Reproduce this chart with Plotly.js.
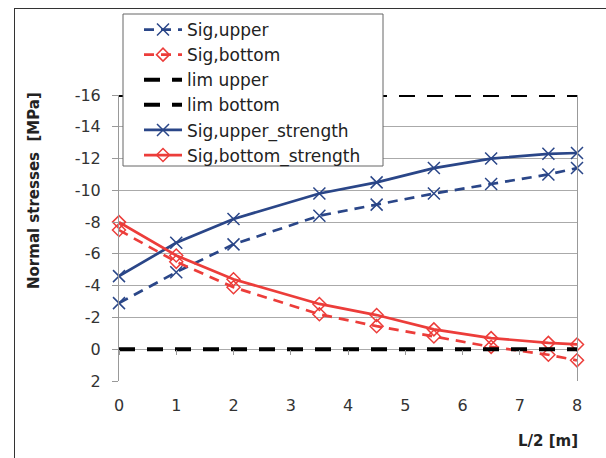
<!DOCTYPE html>
<html>
<head>
<meta charset="utf-8">
<script src="https://cdn.plot.ly/plotly-3.0.1.min.js"></script>
<style>
  html, body { margin: 0; padding: 0; background: #fff; }
  #frame { position: absolute; left: 14px; top: 8px; width: 700px; height: 600px; border: 1.5px solid #333; }
  #chart { position: absolute; left: 0; top: 0; width: 606px; height: 458px; }
</style>
</head>
<body>
<div id="frame"></div>
<div id="chart"></div>
<script>
const xPos = [0, 1, 2, 3.5, 4.5, 5.5, 6.5, 7.5, 8];
const sigUpper = [-2.9, -4.85, -6.6, -8.4, -9.1, -9.8, -10.4, -11.0, -11.4];
const sigBottom = [-7.5, -5.5, -3.9, -2.2, -1.45, -0.8, -0.15, 0.35, 0.7];
const limX = [0, 8];
const limUpper = [-16, -16];
const limBottom = [0, 0];
const sigUpperStrength = [-4.6, -6.7, -8.2, -9.8, -10.5, -11.4, -12.0, -12.3, -12.35];
const sigBottomStrength = [-8.0, -5.9, -4.4, -2.85, -2.15, -1.25, -0.7, -0.4, -0.3];
const xTicks = [0, 1, 2, 3, 4, 5, 6, 7, 8];
const yTicks = [-16, -14, -12, -10, -8, -6, -4, -2, 0, 2];

const blue = '#2a4688';
const red = '#ec3d3a';
const fam = 'DejaVu Sans, Liberation Sans, Arial, sans-serif';

const traces = [
  { x: xPos, y: sigUpper, name: 'Sig,upper', mode: 'lines+markers', cliponaxis: false,
    line: { color: blue, width: 2.7, dash: '10px,7px' },
    marker: { symbol: 'x-thin-open', size: 12, line: { color: blue, width: 1.5 } } },
  { x: xPos, y: sigBottom, name: 'Sig,bottom', mode: 'lines+markers', cliponaxis: false,
    line: { color: red, width: 2.7, dash: '10px,7px' },
    marker: { symbol: 'diamond-open', size: 10, color: red, line: { color: red, width: 1.5 } } },
  { x: limX, y: limUpper, name: 'lim upper', mode: 'lines',
    line: { color: '#000', width: 4, dash: '16px,12px' } },
  { x: limX, y: limBottom, name: 'lim bottom', mode: 'lines', xaxis: 'x2',
    line: { color: '#000', width: 4, dash: '16px,12px' } },
  { x: xPos, y: sigUpperStrength, name: 'Sig,upper_strength', mode: 'lines+markers', cliponaxis: false,
    line: { color: blue, width: 2.7 },
    marker: { symbol: 'x-thin-open', size: 12, line: { color: blue, width: 1.5 } } },
  { x: xPos, y: sigBottomStrength, name: 'Sig,bottom_strength', mode: 'lines+markers', cliponaxis: false,
    line: { color: red, width: 2.7 },
    marker: { symbol: 'diamond-open', size: 10, color: red, line: { color: red, width: 1.5 } } }
];

const W = 458, H = 286, L = 119, T = 95;
const px = v => (v - L) / W;
const py = v => (T + H - v) / H;

const layout = {
  width: 606, height: 458,
  margin: { l: L, r: 606 - L - W, t: T, b: 458 - T - H, autoexpand: false },
  paper_bgcolor: 'rgba(0,0,0,0)',
  plot_bgcolor: '#fff',
  font: { family: fam, color: '#222' },
  showlegend: true,
  legend: {
    x: px(139), y: py(12), xanchor: 'left', yanchor: 'top',
    bgcolor: 'rgba(0,0,0,0)', borderwidth: 0,
    font: { family: fam, size: 17, color: '#222' },
    itemwidth: 38
  },
  shapes: [
    { type: 'rect', xref: 'paper', yref: 'paper', layer: 'above',
      x0: px(123), x1: px(383), y0: py(14), y1: py(166),
      fillcolor: '#fff', line: { color: '#666', width: 1 } }
  ],
  xaxis: {
    range: [0, 8], tickvals: xTicks, ticktext: xTicks.map(String),
    showgrid: false, zeroline: false, showline: false, ticks: '',
    ticklabelstandoff: 13,
    tickfont: { family: fam, size: 16, color: '#333' }
  },
  xaxis2: {
    range: [0, 8], overlaying: 'x', anchor: 'free', position: 2 / 18,
    tickvals: xTicks, showticklabels: false, showgrid: false, zeroline: false,
    showline: false, ticks: 'outside', ticklen: 5, tickcolor: '#999', tickwidth: 1
  },
  yaxis: {
    range: [2, -16], tickvals: yTicks, ticktext: yTicks.map(String),
    showgrid: true, gridcolor: '#aaa', gridwidth: 1,
    zeroline: false, showline: true, linecolor: '#999', linewidth: 1, mirror: true,
    ticks: 'outside', ticklen: 6, tickcolor: '#999',
    ticklabelstandoff: 8,
    tickfont: { family: fam, size: 16, color: '#333' }
  },
  annotations: [
    { text: '<b>Normal stresses\u00a0\u00a0[MPa]</b>', xref: 'paper', yref: 'paper',
      x: px(34), y: py(191), xanchor: 'center', yanchor: 'middle', textangle: -90,
      showarrow: false, font: { family: fam, size: 15, color: '#222' } },
    { text: '<b>L/2 [m]</b>', xref: 'paper', yref: 'paper',
      x: px(580), y: py(441), xanchor: 'right', yanchor: 'middle',
      showarrow: false, font: { family: fam, size: 15, color: '#222' } }
  ]
};

Plotly.newPlot('chart', traces, layout, { displayModeBar: false, staticPlot: true });
</script>
</body>
</html>
